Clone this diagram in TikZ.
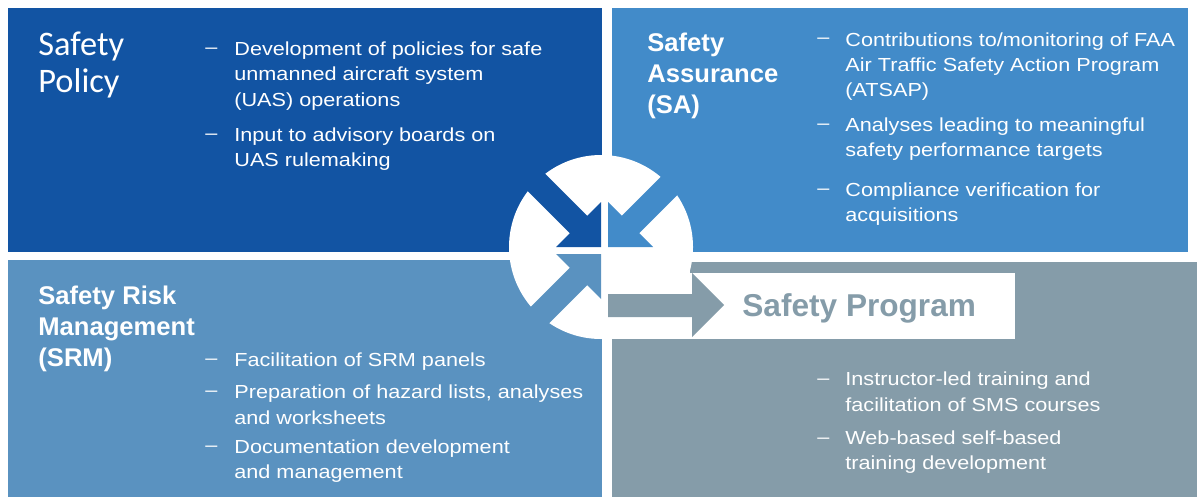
\documentclass[tikz,border=0pt]{standalone}
\usepackage{fontspec}
\usepackage{tikz}
\setmainfont{Liberation Sans}
\newfontfamily\bodyfont[FakeStretch=1.145]{Liberation Sans}
\newfontfamily\policyfont{Carlito}
\definecolor{policyblue}{HTML}{1254A3}
\definecolor{assureblue}{HTML}{428BC9}
\definecolor{riskblue}{HTML}{5A92C0}
\definecolor{programgray}{HTML}{859CA9}
\tikzstyle{head}=[text=white, font=\fontsize{12.8}{15.5}\selectfont\bfseries, align=left, anchor=base west, inner sep=0pt]
\tikzstyle{polhead}=[text=white, font=\policyfont\fontsize{17.2}{18.8}\selectfont, align=left, anchor=base west, inner sep=0pt]
\tikzstyle{entry}=[text=white, font=\bodyfont\fontsize{9.45}{12.65}\selectfont, align=left, anchor=base west, inner sep=0pt]
\tikzstyle{bar}=[text=white, font=\bodyfont\fontsize{9.45}{12.65}\selectfont, anchor=base west, inner sep=0pt]
\tikzstyle{progtext}=[text=programgray, font=\fontsize{15.8}{18}\selectfont\bfseries, anchor=base west, inner sep=0pt]
\newcommand{\bardash}{\raisebox{1pt}{–}}

\begin{document}
\begin{tikzpicture}[x=0.5pt, y=-0.5pt]
	\useasboundingbox (0,0) rectangle (1197,499);

	%The four panels
	\fill[policyblue] (8,8) rectangle (602,252);
	\fill[assureblue] (612,8) rectangle (1188,252);
	\fill[riskblue] (8,260) rectangle (602,497);
	\fill[programgray] (612,262) rectangle (1197,497);

	%The label cut-out
	\fill[white] (612,273) rectangle (1015,339);
	\fill[white] (612,258) rectangle (690,273);

	%The hub
	\fill[white] (601,247) circle[radius=46pt];

	%The arrows into the hub
	\fill[policyblue] (601,247) -- (556,247) -- (569.8,233.2) -- (494.8,158.2)
		-- (512.2,140.8) -- (587.2,215.8) -- (601,202) -- cycle;
	\fill[assureblue] (608,247) -- (653,247) -- (639.2,233.2) -- (714.2,158.2)
		-- (696.8,140.8) -- (621.8,215.8) -- (608,202) -- cycle;
	\fill[riskblue] (601,254) -- (556,254) -- (569.8,267.8) -- (494.8,342.8)
		-- (512.2,360.2) -- (587.2,285.2) -- (601,299) -- cycle;

	%The arrow out of the hub
	\fill[programgray] (608,294) -- (692,294) -- (692,273) -- (724,305)
		-- (692,337) -- (692,317) -- (608,317) -- cycle;

	%Safety Policy (nodes sit on their last line)
	\node[polhead] (pol-head) at (38,92.6) {Safety\\Policy};
	\node[bar] (pol-d1) at (205,55) {\bardash};
	\node[entry] (pol-1) at (234,106) {Development of policies for safe\\unmanned aircraft system\\(UAS) operations};
	\node[bar] (pol-d2) at (205,141.7) {\bardash};
	\node[entry] (pol-2) at (234,166.7) {Input to advisory boards on\\UAS rulemaking};

	%Safety Assurance
	\node[head] (sa-head) at (647,113.7) {Safety\\Assurance\\(SA)};
	\node[bar] (sa-d1) at (817,45.7) {\bardash};
	\node[entry] (sa-1) at (845,96.7) {Contributions to/monitoring of FAA\\Air Traffic Safety Action Program\\(ATSAP)};
	\node[bar] (sa-d2) at (817,131.7) {\bardash};
	\node[entry] (sa-2) at (845,156.7) {Analyses leading to meaningful\\safety performance targets};
	\node[bar] (sa-d3) at (817,196.7) {\bardash};
	\node[entry] (sa-3) at (845,221.7) {Compliance verification for\\acquisitions};

	%Safety Risk Management
	\node[head] (srm-head) at (38,366.7) {Safety Risk\\Management\\(SRM)};
	\node[bar] (srm-d1) at (205,366.7) {\bardash};
	\node[entry] (srm-1) at (234,366.7) {Facilitation of SRM panels};
	\node[bar] (srm-d2) at (205,398.3) {\bardash};
	\node[entry] (srm-2) at (234,424) {Preparation of hazard lists, analyses\\and worksheets};
	\node[bar] (srm-d3) at (205,453.3) {\bardash};
	\node[entry] (srm-3) at (234,478.3) {Documentation development\\and management};

	%Safety Program
	\node[progtext] (prog-head) at (742,316) {Safety Program};
	\node[bar] (prog-d1) at (817,386) {\bardash};
	\node[entry] (prog-1) at (845,411) {Instructor-led training and\\facilitation of SMS courses};
	\node[bar] (prog-d2) at (817,445) {\bardash};
	\node[entry] (prog-2) at (845,469.3) {Web-based self-based\\training development};
\end{tikzpicture}
\end{document}
